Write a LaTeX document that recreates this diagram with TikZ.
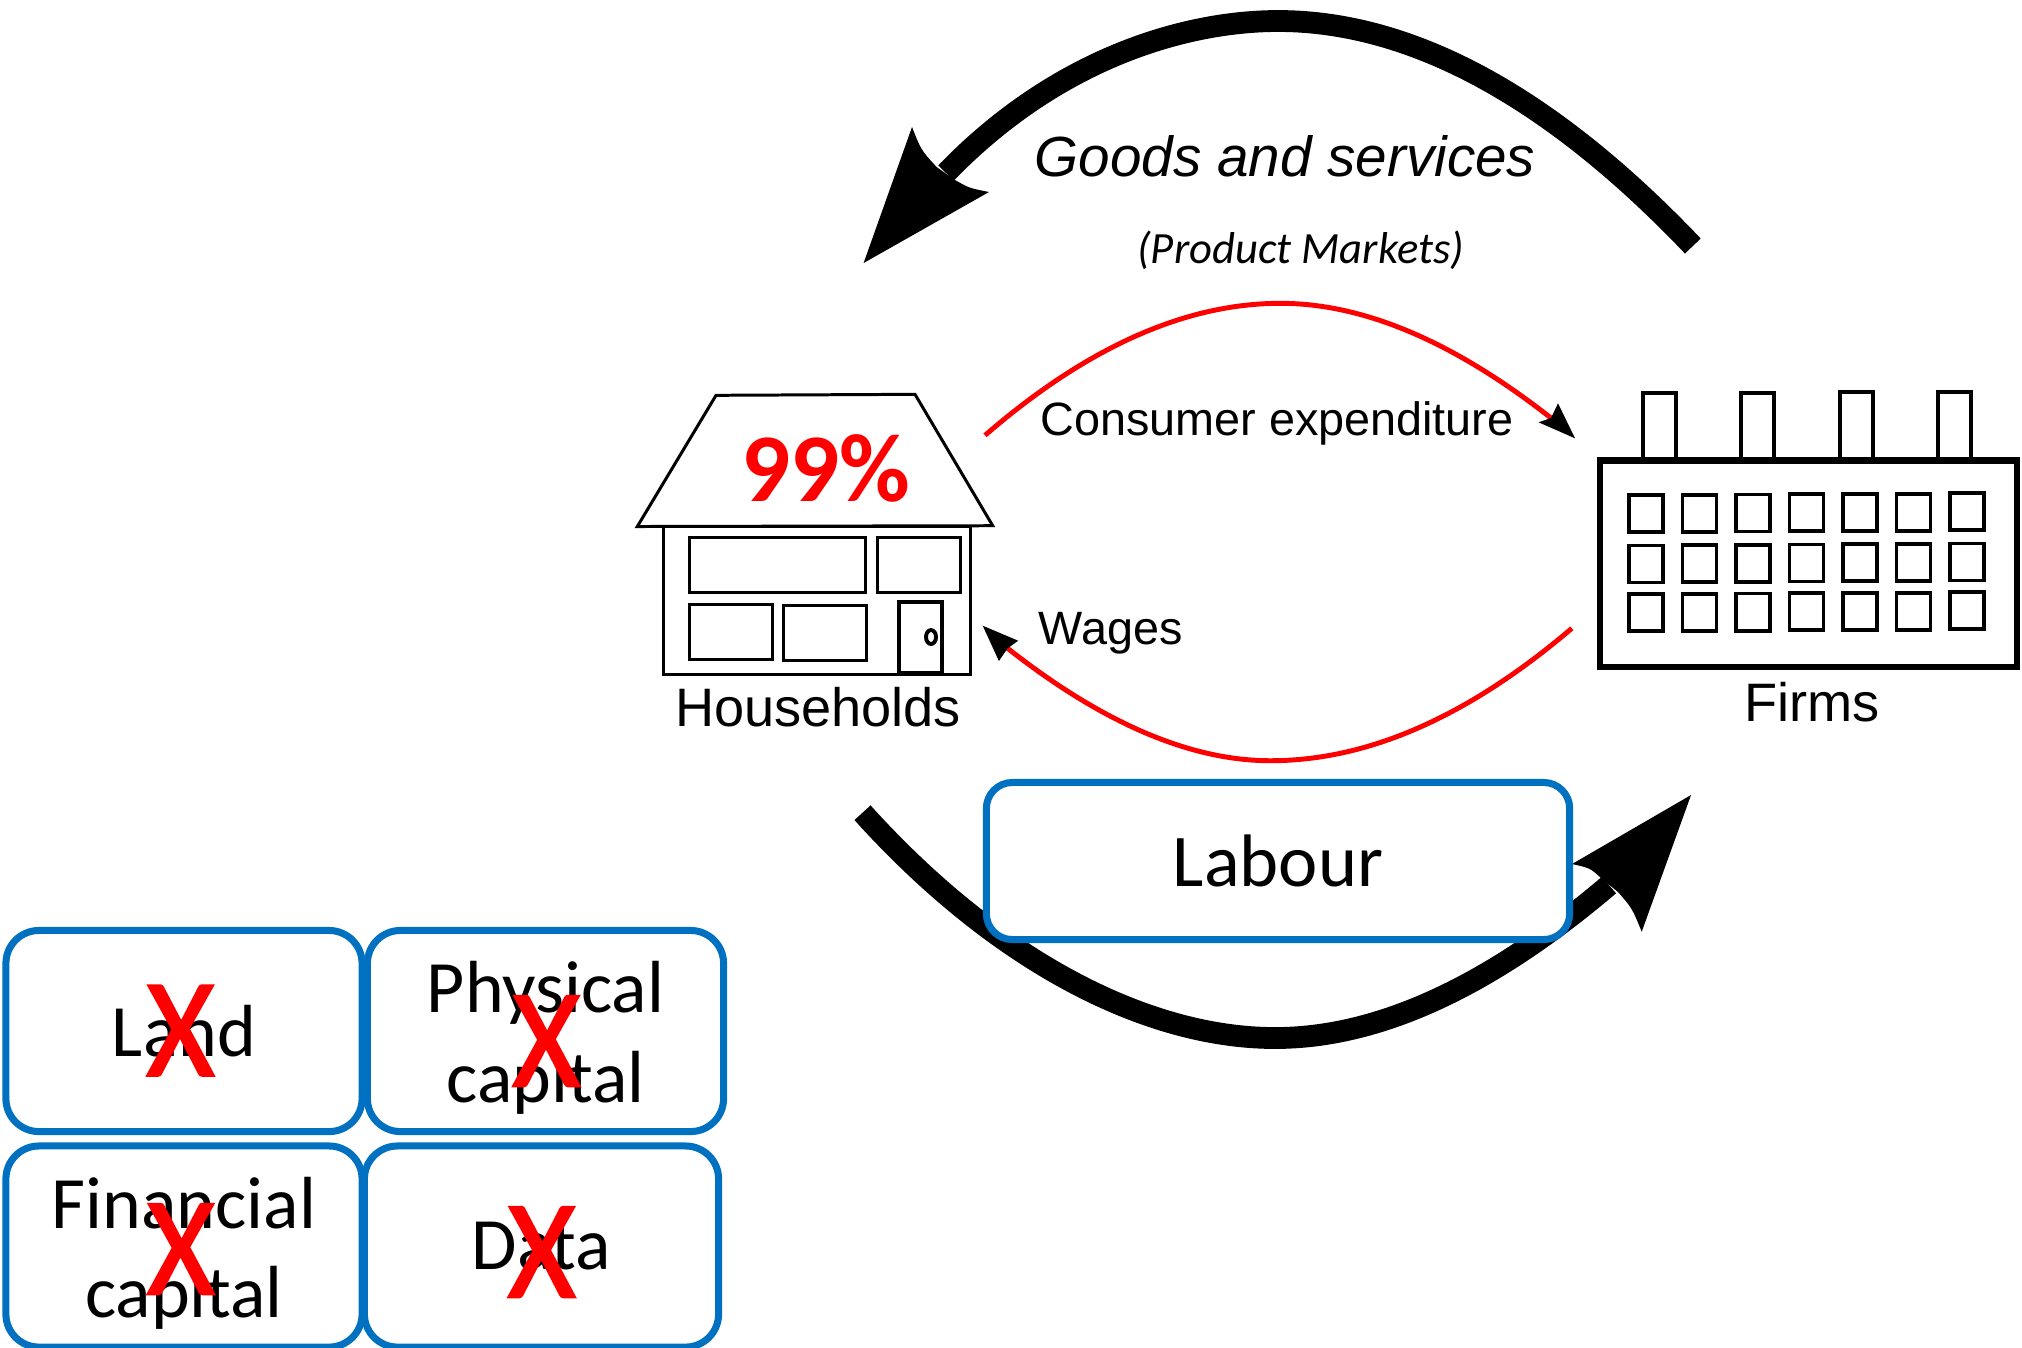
\documentclass[tikz,border=0pt]{standalone}
\usepackage{fontspec}
\setmainfont{Carlito}
\newfontfamily\arialfont{Liberation Sans}
\newfontfamily\crossfont[FakeBold=1.6,FakeStretch=0.93]{Carlito}
\usepackage{tikz}
\pgfdeclarelayer{edgelayer}
\pgfdeclarelayer{nodelayer}
\pgfsetlayers{edgelayer,nodelayer,main}
\definecolor{boxblue}{HTML}{0070C0}
\tikzstyle{none}=[inner sep=0pt]
\tikzstyle{factor}=[draw=boxblue,fill=white,line width=2pt,rounded corners=0.33cm,minimum width=3.56cm,minimum height=2.01cm,inner sep=0pt,align=center,font=\fontsize{21}{25.5}\selectfont]
\tikzstyle{cross}=[inner sep=0pt,text=red,font=\crossfont\fontsize{40}{40}\selectfont]
\tikzstyle{sans}=[inner sep=0pt,anchor=base,font=\arialfont\fontsize{13.3}{15}\selectfont]
\tikzstyle{sansbig}=[inner sep=0pt,anchor=base,font=\arialfont\fontsize{15.4}{18}\selectfont]
\tikzstyle{bigflow}=[draw=black,line width=6.2pt]
\tikzstyle{redflow}=[draw=red,line width=1.4pt]
\tikzstyle{thin wall}=[draw=black,line width=0.85pt]
\tikzstyle{thick wall}=[draw=black,line width=1.1pt]

\begin{document}
\begin{tikzpicture}[x=0.01cm,y=-0.01cm]
	\useasboundingbox (0, 0) rectangle (2022, 1347);
	\begin{pgfonlayer}{nodelayer}
		% household
		\draw [style=thin wall] (637.3, 526.5) -- (716, 395.3) -- (915, 394.3) -- (992.7, 525.7) -- cycle;
		\draw [style=thin wall] (663.7, 526) rectangle (970, 674);
		\draw [style=thin wall] (689, 537.7) rectangle (865, 592.3);
		\draw [style=thin wall] (877.7, 537.7) rectangle (960.3, 592.3);
		\draw [style=thin wall] (689.3, 604.3) rectangle (772, 659);
		\draw [style=thin wall] (783.3, 605.7) rectangle (866.3, 660.3);
		\draw [style=thick wall] (899.3, 601.7) rectangle (941.7, 673.3);
		\draw [style=thick wall] (931, 637) ellipse [x radius=5, y radius=7];
		\node [style=none,anchor=base,text=red,font=\bfseries\fontsize{27.6}{30}\selectfont] (share) at (825.8, 501.7) {99\%};
		\node [style=sansbig] (households) at (818, 726.7) {Households};
		% firm
		\draw [draw=black,line width=1.8pt] (1600, 460.5) rectangle (2017, 667);
		\foreach \chimneyx/\chimneytop in {1643/393, 1741/393, 1840/392, 1938/392}
			\draw [style=thick wall] (\chimneyx, 460) -- (\chimneyx, \chimneytop) -- (\chimneyx + 33, \chimneytop) -- (\chimneyx + 33, 460);
		\foreach \col in {0,...,6}
			\foreach \rowy in {513.7, 564, 612.7}
				\draw [style=thick wall] (1646 + 53.5*\col - 17, \rowy - 0.33*\col - 18.5) rectangle +(34, 37);
		\node [style=sansbig] (firms) at (1811.7, 721.7) {Firms};
		% flow labels
		\node [style=none,anchor=base,font=\arialfont\itshape\fontsize{16.1}{18}\selectfont] (goods) at (1285, 176.7) {Goods and services};
		\node [style=none,anchor=base,font=\itshape\fontsize{12.7}{15}\selectfont] (markets) at (1300.7, 263) {(Product Markets)};
		\node [style=sans] (expenditure) at (1277, 435.7) {Consumer expenditure};
		\node [style=sans] (wages) at (1110.5, 644) {Wages};
		% factors
		\node [style=factor,minimum width=5.83cm,minimum height=1.57cm,rounded corners=0.26cm,font=\fontsize{21.15}{25.5}\selectfont] (labour) at (1278, 861) {Labour};
		\node [style=factor] (land) at (184, 1031) {Land};
		\node [style=factor] (physical) at (545.5, 1031) {\rule{0pt}{18.5pt}Physical\\capital};
		\node [style=factor] (financial) at (184, 1246.5) {\rule{0pt}{18.5pt}Financial\\capital};
		\node [style=factor,minimum width=3.54cm] (data) at (541.5, 1246.5) {Data};
		\node [style=cross] (xland) at (180.5, 1030.5) {X};
		\node [style=cross] (xphysical) at (546.4, 1041) {X};
		\node [style=cross] (xfinancial) at (180.9, 1249) {X};
		\node [style=cross] (xdata) at (541.7, 1252) {X};
	\end{pgfonlayer}
	\begin{pgfonlayer}{edgelayer}
		\coordinate (goodsstart) at (1692.8, 246);
		\coordinate (goodstop) at (1278, 21);
		\coordinate (goodsend) at (946, 173);
		\draw [style=bigflow] (goodsstart) .. controls (1550, 96) and (1411, 21) .. (goodstop) .. controls (1190, 21) and (1060, 55) .. (goodsend);
		\fill (863.6, 263) -- (912, 127) .. controls (921, 150) .. (936.6, 167) -- (955, 180) .. controls (969, 188) .. (989, 192) -- cycle;
		\coordinate (labourstart) at (862.5, 812.7);
		\coordinate (labourbottom) at (1275, 1038);
		\coordinate (labourend) at (1609, 885);
		\draw [style=bigflow] (labourstart) .. controls (1000, 965) and (1150, 1038) .. (labourbottom) .. controls (1378, 1038) and (1489, 987) .. (labourend);
		\fill (1691, 795) -- (1641.7, 931.7) .. controls (1632, 908) .. (1618, 892) -- (1601, 878) .. controls (1590, 868) .. (1572, 864) -- cycle;
		\coordinate (spendstart) at (985, 435.3);
		\coordinate (spendtop) at (1280.4, 303.3);
		\coordinate (spendend) at (1551, 418);
		\draw [style=redflow] (spendstart) .. controls (1087, 347) and (1185.5, 303.3) .. (spendtop) .. controls (1363.5, 303.3) and (1453.5, 341.5) .. (spendend);
		\fill (1575, 438.3) -- (1558, 403.3) -- (1551, 418) -- (1538.6, 422.3) -- cycle;
		\coordinate (wagestart) at (1571.8, 628.3);
		\coordinate (wagebottom) at (1270.5, 760.7);
		\coordinate (wageend) at (1007.6, 648.3);
		\draw [style=redflow] (wagestart) .. controls (1468.3, 716.6) and (1368, 760.7) .. (wagebottom) .. controls (1190.5, 760.7) and (1103, 723.3) .. (wageend);
		\fill (982.7, 625.7) -- (1018.2, 640.7) -- (1007.6, 648.3) -- (998.9, 661) -- cycle;
	\end{pgfonlayer}
\end{tikzpicture}
\end{document}
